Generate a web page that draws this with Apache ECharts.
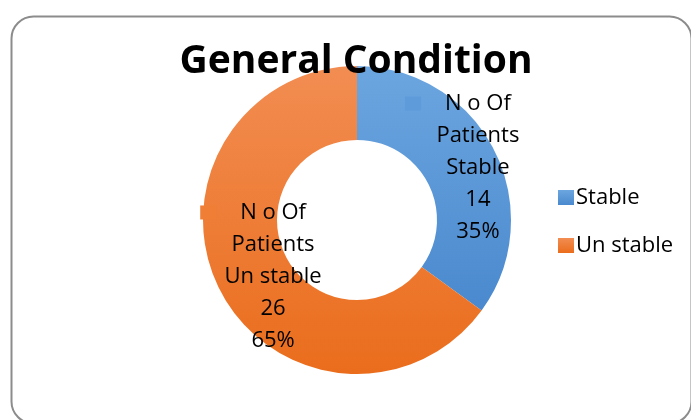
<!DOCTYPE html>
<html>
<head>
<meta charset="utf-8">
<script src="https://cdn.jsdelivr.net/npm/echarts@6/dist/echarts.min.js"></script>
<style>
  html, body { margin: 0; padding: 0; background: #fff; }
  #chart { width: 691px; height: 420px; }
</style>
</head>
<body>
<div id="chart"></div>
<script>
// 数据
const seriesName = 'N o Of Patients'
const categories = ['Stable', 'Un stable']
const patientCounts = [14, 26]
const sliceColors = [
  ['#6CA6E0', '#4A89CE'],
  ['#F28D52', '#EA6D1C']
]

const font = '"Open Sans", sans-serif'
const myChart = echarts.init(document.getElementById('chart'))

const grad = c => new echarts.graphic.LinearGradient(0, 0, 0, 1, [
  { offset: 0, color: c[0] },
  { offset: 1, color: c[1] }
])

myChart.setOption({
  animation: false,
  graphic: [{
    type: 'rect',
    left: 9,
    top: 14,
    shape: { width: 680, height: 407, r: 22 },
    style: { fill: 'none', stroke: '#8c8c8c', lineWidth: 2 },
    z: -1
  }],
  title: {
    text: 'General Condition',
    left: 351,
    top: 37,
    textAlign: 'center',
    textStyle: {
      fontFamily: font,
      fontWeight: 'bold',
      fontSize: 39,
      color: '#000'
    }
  },
  legend: {
    orient: 'vertical',
    left: 553,
    top: 181,
    icon: 'rect',
    itemWidth: 16,
    itemHeight: 15,
    itemGap: 25,
    textStyle: {
      fontFamily: font,
      fontSize: 22,
      lineHeight: 23,
      color: '#000',
      padding: [0, 0, 0, -3]
    },
    data: categories
  },
  series: [{
    name: seriesName,
    type: 'pie',
    center: [357, 220],
    radius: [80, 154],
    startAngle: 90,
    clockwise: true,
    itemStyle: { borderWidth: 0 },
    labelLine: { show: false },
    labelLayout: p => ({ dx: p.dataIndex === 0 ? 14 : 23, dy: 2 }),
    label: {
      show: true,
      position: 'inside',
      fontFamily: font,
      fontSize: 22,
      lineHeight: 32,
      color: '#000',
      align: 'center',
      formatter: p => {
        const words = p.seriesName.split(' ')
        const line1 = words.slice(0, 3).join(' ')
        const line2 = words.slice(3).join(' ')
        const sq = p.dataIndex === 0 ? 'sq0' : 'sq1'
        return '{' + sq + '|}{gap|}' + line1 + '{pad|}\n' + line2 + '\n' + p.name + '\n' + p.value + '\n' + p.percent + '%'
      },
      rich: {
        sq0: { width: 16, height: 14, backgroundColor: '#5E9BDB' },
        sq1: { width: 16, height: 14, backgroundColor: '#F07E35' },
        gap: { width: 24 },
        pad: { width: 40 }
      }
    },
    data: categories.map((name, i) => ({
      name: name,
      value: patientCounts[i],
      itemStyle: { color: grad(sliceColors[i]) }
    }))
  }]
})
</script>
</body>
</html>
